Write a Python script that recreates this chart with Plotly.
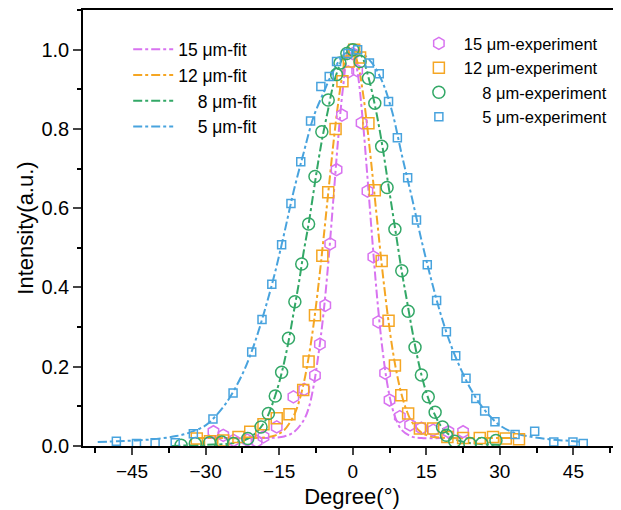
import plotly.graph_objects as go

# colours per sample thickness
c15 = '#D873F0'
c12 = '#F5A623'
c8 = '#33A867'
c5 = '#48A3DE'

# experimental data (degree, intensity)
x15 = [-28.4, -26.4, -24.3, -21.5, -19.6, -18.2, -15.5, -12.1, -9.9, -7.7, -6.7, -5.6, -4.6, -3.3, -2.2, -0.9, 0.0,
       0.9, 1.8, 3.0, 4.2, 5.2, 6.6, 7.5, 9.6, 11.7, 14.0, 16.4, 19.5, 22.5]
y15 = [0.036, 0.027, 0.014, 0.015, 0.012, 0.023, 0.048, 0.124, 0.143, 0.178, 0.257, 0.355, 0.51, 0.697, 0.835, 0.944, 0.99,
       0.947, 0.815, 0.643, 0.477, 0.313, 0.184, 0.116, 0.074, 0.053, 0.045, 0.04, 0.036, 0.036]

x12 = [-31.8, -29.1, -26.4, -23.3, -20.9, -18.2, -15.5, -12.9, -10.1, -9.0, -7.7, -6.2, -5.0, -3.5, -2.1, -0.8, 0.3,
       1.5, 3.2, 4.5, 5.9, 7.3, 8.6, 9.9, 11.3, 13.7, 16.4, 19.3, 22.5, 25.9, 28.6, 31.2, 33.9]
y12 = [0.019, 0.012, 0.014, 0.023, 0.036, 0.055, 0.07, 0.08, 0.141, 0.213, 0.33, 0.48, 0.64, 0.80, 0.92, 0.97, 1.0,
       0.98, 0.814, 0.645, 0.467, 0.316, 0.203, 0.128, 0.082, 0.044, 0.044, 0.023, 0.02, 0.02, 0.023, 0.019, 0.017]

x8 = [-35.0, -32.1, -29.2, -26.7, -24.3, -21.4, -18.7, -17.2, -15.8, -14.5, -13.1, -11.8, -10.4, -9.0, -7.7, -6.3,
      -5.0, -3.3, -2.6, -1.2, 0.0, 1.5, 3.2, 4.5, 5.9, 7.0, 8.6, 10.0, 11.3, 12.7, 14.0, 15.4, 16.8, 18.3, 19.1,
      20.8, 23.9, 26.3, 29.2]
y8 = [0.002, 0.006, 0.008, 0.01, 0.006, 0.019, 0.048, 0.082, 0.126, 0.186, 0.272, 0.364, 0.459, 0.56, 0.68, 0.793,
      0.873, 0.937, 0.966, 0.99, 1.0, 0.97, 0.928, 0.865, 0.756, 0.652, 0.547, 0.442, 0.34, 0.249, 0.179, 0.124,
      0.085, 0.048, 0.027, 0.012, 0.006, 0.006, 0.014]

x5 = [-48.2, -44.1, -40.3, -36.2, -32.5, -28.5, -24.4, -20.6, -18.5, -16.5, -14.5, -12.6, -10.6, -8.6, -6.5, -4.8,
      -3.3, -1.0, 1.0, 3.4, 5.4, 7.3, 9.1, 11.2, 13.0, 15.2, 17.1, 19.1, 21.0, 23.1, 25.1, 26.9, 29.0, 33.1, 37.1,
      41.0, 44.9, 47.0]
y5 = [0.012, 0.006, 0.008, 0.008, 0.031, 0.068, 0.134, 0.237, 0.319, 0.408, 0.508, 0.612, 0.717, 0.82, 0.907, 0.932,
      0.97, 0.99, 1.0, 0.966, 0.939, 0.869, 0.778, 0.677, 0.57, 0.457, 0.367, 0.288, 0.228, 0.171, 0.12, 0.088,
      0.061, 0.029, 0.037, 0.01, 0.01, 0.006]

# fitted curves
fx15 = [-30, -25, -20, -16, -14, -12, -10, -9, -8, -7, -6, -5, -4, -3, -2, -1, 0, 1, 2, 3, 4, 5, 6, 7, 8, 9, 10,
        12, 14, 18, 24]
fy15 = [0.02, 0.02, 0.02, 0.021, 0.024, 0.035, 0.065, 0.095, 0.15, 0.23, 0.33, 0.46, 0.615, 0.771, 0.902, 0.982,
        0.997, 0.941, 0.828, 0.678, 0.519, 0.371, 0.25, 0.16, 0.099, 0.062, 0.04, 0.024, 0.02, 0.02, 0.02]

fx12 = [-32, -26, -20, -16, -14, -12, -11, -10, -9, -8, -7, -6, -5, -4, -3, -2, -1, 0, 1, 2, 3, 4, 5, 6, 7, 8, 9,
        10, 11, 12, 14, 16, 20, 26, 34]
fy12 = [0.02, 0.02, 0.02, 0.026, 0.04, 0.077, 0.11, 0.158, 0.223, 0.305, 0.405, 0.518, 0.638, 0.757, 0.862, 0.943,
        0.99, 0.998, 0.966, 0.898, 0.801, 0.687, 0.566, 0.448, 0.343, 0.253, 0.182, 0.128, 0.089, 0.062, 0.034,
        0.024, 0.02, 0.02, 0.02]

fx8 = [-37, -30, -25, -22, -20, -18, -17, -16, -15, -14, -13, -12, -11, -10, -9, -8, -7, -6, -5, -4, -3, -2, -1, 0,
       1, 2, 3, 4, 5, 6, 7, 8, 9, 10, 11, 12, 13, 14, 15, 16, 17, 18, 20, 22, 25, 30]
fy8 = [0.0, 0.003, 0.006, 0.015, 0.03, 0.06, 0.085, 0.12, 0.16, 0.21, 0.27, 0.34, 0.41, 0.49, 0.56, 0.64, 0.72,
       0.79, 0.85, 0.91, 0.95, 0.98, 0.995, 1.0, 0.995, 0.98, 0.94, 0.89, 0.83, 0.76, 0.68, 0.6, 0.52, 0.44, 0.37,
       0.3, 0.235, 0.18, 0.135, 0.1, 0.072, 0.05, 0.025, 0.012, 0.006, 0.003]

fx5 = [-52, -48, -44, -40, -36, -33, -30, -28, -26, -24, -22, -20, -18, -16, -14, -12, -10, -8, -6, -4, -2, 0, 2, 4,
       6, 8, 10, 12, 14, 16, 18, 20, 22, 24, 26, 28, 30, 33, 36, 40, 44, 47]
fy5 = [0.01, 0.012, 0.014, 0.018, 0.025, 0.035, 0.052, 0.075, 0.105, 0.145, 0.195, 0.26, 0.34, 0.43, 0.535, 0.645,
       0.74, 0.83, 0.89, 0.945, 0.985, 1.0, 0.99, 0.965, 0.92, 0.845, 0.735, 0.63, 0.52, 0.42, 0.33, 0.255, 0.195,
       0.145, 0.105, 0.075, 0.052, 0.033, 0.024, 0.017, 0.013, 0.01]

fig = go.Figure()

fits = [(fx15, fy15, c15, '15 \u03bcm-fit'), (fx12, fy12, c12, '12 \u03bcm-fit'),
        (fx8, fy8, c8, '\u2007\u20078 \u03bcm-fit'), (fx5, fy5, c5, '\u2007\u20075 \u03bcm-fit')]
exps = [(x15, y15, c15, 'hexagon-open', 12, '15 \u03bcm-experiment'),
        (x12, y12, c12, 'square-open', 11, '12 \u03bcm-experiment'),
        (x8, y8, c8, 'circle-open', 12, '\u2007\u20078 \u03bcm-experiment'),
        (x5, y5, c5, 'square-open', 8, '\u2007\u20075 \u03bcm-experiment')]

for fx, fy, col, name in fits:
    fig.add_trace(go.Scatter(x=fx, y=fy, mode='lines', name=name, legend='legend',
                             line=dict(color=col, width=2, dash='dashdot', shape='spline')))
for ex, ey, col, sym, sz, name in exps:
    fig.add_trace(go.Scatter(x=ex, y=ey, mode='markers', name=name, legend='legend2',
                             marker=dict(color=col, symbol=sym, size=sz, line=dict(width=1.5, color=col))))

# page body has an 8px margin, so the figure is 8px smaller and margins shifted
fig.update_layout(
    width=613, height=502,
    margin=dict(l=75, r=0, t=2, b=64),
    plot_bgcolor='white', paper_bgcolor='white',
    font=dict(family='Liberation Sans, Arial', size=19, color='black'),
    legend=dict(x=0.084, y=0.951, xanchor='left', yanchor='top', bgcolor='rgba(0,0,0,0)',
                font=dict(size=17.5), itemwidth=40, tracegroupgap=0),
    legend2=dict(x=0.615, y=0.963, xanchor='left', yanchor='top', bgcolor='rgba(0,0,0,0)',
                 font=dict(size=16.5), itemwidth=40, tracegroupgap=0),
)

fig.update_xaxes(range=[-55, 54.7], tickvals=[-45, -30, -15, 0, 15, 30, 45], ticks='outside', ticklen=7,
                 tickwidth=1.5, showline=True, linewidth=1.5, linecolor='black', mirror=True, showgrid=False,
                 zeroline=False, automargin=False, tickfont=dict(size=19),
                 minor=dict(dtick=7.5, tick0=-52.5, ticks='outside', ticklen=5, tickwidth=1.5, tickcolor='black'),
                 title=dict(text='Degree(\u00b0)', font=dict(size=22), standoff=8))
fig.update_yaxes(range=[0, 1.1], tickvals=[0, 0.2, 0.4, 0.6, 0.8, 1.0], tickformat='.1f', ticks='outside',
                 ticklen=8, tickwidth=1.5, showline=True, linewidth=1.5, linecolor='black', showgrid=False,
                 zeroline=False, automargin=False, tickfont=dict(size=20),
                 minor=dict(dtick=0.1, ticks='outside', ticklen=4, tickwidth=1.5, tickcolor='black'),
                 title=dict(text='Intensity(a.u.)', font=dict(size=22), standoff=2))

fig.write_html("out.html")
